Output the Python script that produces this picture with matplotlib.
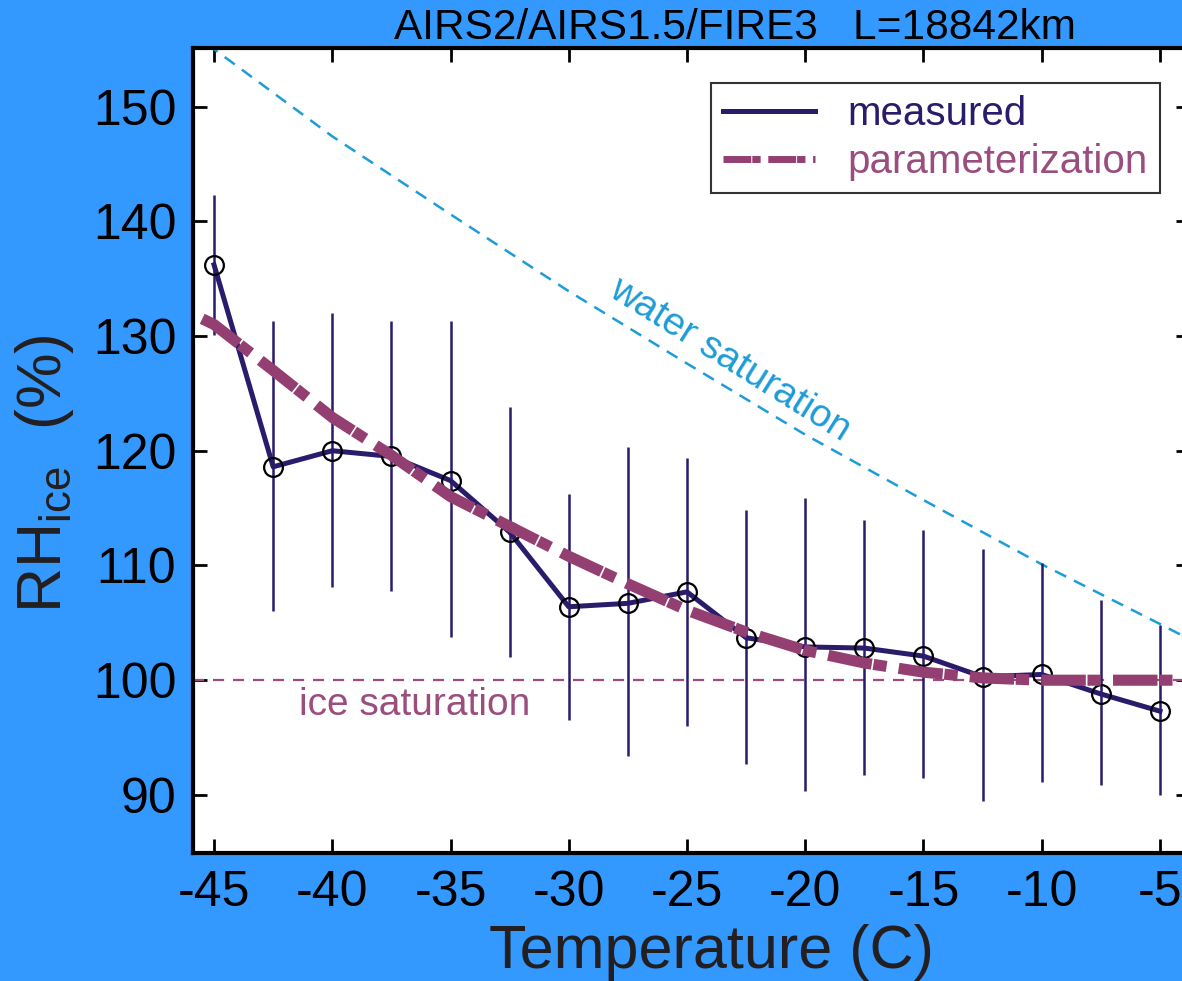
import numpy as np
import matplotlib
matplotlib.use("Agg")
from matplotlib import pyplot as plt

plt.rcParams['font.family'] = ['Liberation Sans', 'DejaVu Sans']
plt.rcParams['mathtext.fontset'] = 'custom'
plt.rcParams['mathtext.rm'] = 'Liberation Sans'
plt.rcParams['axes.unicode_minus'] = False

# measured RHice with error bar ends
temp = [-45, -42.5, -40, -37.5, -35, -32.5, -30, -27.5, -25, -22.5, -20,
        -17.5, -15, -12.5, -10, -7.5, -5]
rh_meas = [136.2, 118.6, 120.0, 119.5, 117.4, 112.9, 106.4, 106.7, 107.7,
           103.7, 102.9, 102.8, 102.1, 100.3, 100.5, 98.8, 97.3]
err_top = [142.3, 131.3, 132.0, 131.3, 131.3, 123.8, 116.2, 120.3, 119.4,
           114.8, 115.9, 114.0, 113.1, 111.4, 110.2, 107.0, 104.8]
err_bot = [130.1, 106.0, 108.1, 107.8, 103.8, 102.0, 96.5, 93.4, 96.0,
           92.7, 90.35, 91.7, 91.5, 89.5, 91.1, 90.9, 90.0]

# parameterization curve
temp_par = [-45.5, -45, -42.5, -40, -37.5, -35, -32.5, -30, -27.5, -25,
            -22.5, -20, -17.5, -15, -12.5, -10, -7.5, -5, -3.5]
rh_par = [131.5, 131.0, 127.0, 122.9, 119.6, 116.0, 113.4, 110.8, 108.4,
          106.1, 104.2, 102.6, 101.5, 100.7, 100.2, 100.0, 100.0, 100.0, 100.0]

# water saturation w.r.t. ice
temp_w = [-46, -45, -40, -35, -30, -25, -20, -15, -10, -5, -3.5]
rh_w = [156.5, 155.0, 147.4, 140.6, 133.9, 127.6, 121.4, 115.7, 110.1, 104.9, 103.3]

xticks = [-45, -40, -35, -30, -25, -20, -15, -10, -5]
yticks = [90, 100, 110, 120, 130, 140, 150]

navy = '#2a1b6b'
plum = '#943f72'
plum_lt = '#9b4d7e'
sky = '#1e9cd7'

fig = plt.figure(figsize=(11.82, 9.81), dpi=100, facecolor='#3399ff')
ax = fig.add_axes([193/1182, 1-853/981, (1190-193)/1182, (853-48)/981])

ax.axhline(100, color=plum_lt, lw=1.6, dashes=(5, 4))
ax.plot(temp_w, rh_w, color=sky, lw=1.8, dashes=(5, 3.5))

ax.vlines(temp, err_bot, err_top, color=navy, lw=1.8, zorder=3)
ax.plot(temp, rh_meas, color=navy, lw=3.6, zorder=4, label='measured')
ax.plot(temp, rh_meas, 'o', ms=13.5, mfc='none', mec='black', mew=1.6, zorder=5)
ax.plot(temp_par, rh_par, color=plum, lw=8, dashes=(4, 0.15, 1.2, 1.1), zorder=6,
        label='parameterization')

ax.text(-36.5, 97.8, 'ice saturation', color=plum_lt, fontsize=28, ha='center', va='center')
ax.text(-23.2, 127.9, 'water saturation', color=sky, fontsize=28, ha='center', va='center',
        rotation=-32, rotation_mode='anchor')

ax.set_xlim(-45.89, -3.73)
ax.set_ylim(84.94, 155.1)
ax.set_xticks(xticks)
ax.set_xticklabels([str(t) for t in xticks])
ax.set_yticks(yticks)
ax.tick_params(direction='in', length=10, width=2, top=True, right=True,
               labelsize=36, colors='black')
ax.tick_params(axis='x', pad=12)
ax.tick_params(axis='y', pad=12)
for s in ax.spines.values():
    s.set_linewidth(3)

leg = ax.legend(loc='upper right', bbox_to_anchor=((1160-193)/(1190-193), (853-83)/(853-48)),
                borderaxespad=0, fontsize=29, frameon=True, fancybox=False, edgecolor='black',
                handlelength=2.3, handletextpad=0.8, borderpad=0.3, labelspacing=0.25)
leg.get_frame().set_linewidth(1.5)
leg.get_lines()[1].set_linewidth(5)
for txt, c in zip(leg.get_texts(), [navy, plum_lt]):
    txt.set_color(c)

fig.text(735/1182, 1-28/981, 'AIRS2/AIRS1.5/FIRE3   L=18842km', fontsize=30.5,
         ha='center', va='center', color='black')
fig.text(711/1182, 1-968/981, 'Temperature (C)', fontsize=44, ha='center', va='baseline',
         color='#231f20')
fig.text(44/1182, 1-474/981, r'RH$_{\rm ice}$  (%)', fontsize=45, ha='center', va='center',
         rotation=90, color='#231f20')

fig.savefig('out.png', dpi=100, facecolor=fig.get_facecolor())
